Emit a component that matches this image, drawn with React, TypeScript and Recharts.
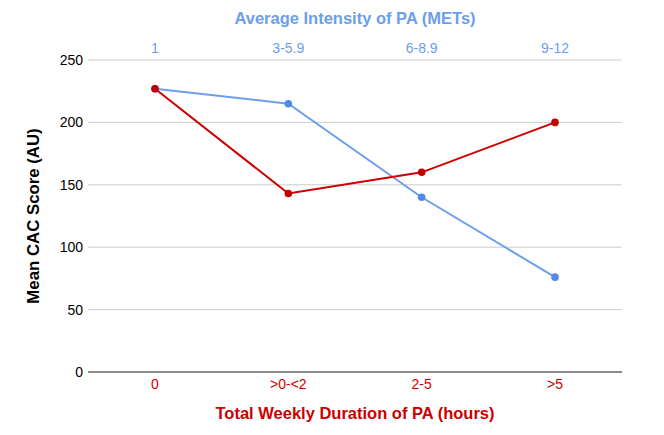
import React from "react";
import { LineChart, Line, XAxis, YAxis, CartesianGrid, Label } from "recharts";

const durationCats = ["0", ">0-<2", "2-5", ">5"];
const intensityCats = ["1", "3-5.9", "6-8.9", "9-12"];
const intensityValues = [227, 215, 140, 76];
const durationValues = [227, 143, 160, 200];
const yTicks = [0, 50, 100, 150, 200, 250];

const BLUE = "#6d9eeb";
const BLUE_DOT = "#4f8ae8";
const RED = "#cc0000";
const RED_DOT = "#c00000";
const FONT = "'Liberation Sans', Arial, sans-serif";

const data = durationCats.map((d, i) => ({
  dur: d,
  int: intensityCats[i],
  intensity: intensityValues[i],
  duration: durationValues[i],
}));

const YTitle = (props: any) => {
  const vb = props.viewBox || {};
  const cx = 33;
  const cy = vb.y + vb.height / 2;
  return (
    <text
      x={cx}
      y={cy}
      transform={`rotate(-90, ${cx}, ${cy})`}
      textAnchor="middle"
      dominantBaseline="central"
      fontFamily={FONT}
      fontSize={16.8}
      fontWeight="bold"
      fill="#000"
    >
      Mean CAC Score (AU)
    </text>
  );
};

const PAD = { left: 67, right: 67 };

export default function App() {
  return (
    <div style={{ position: "absolute", left: 0, top: 0, background: "#fff" }}>
      <LineChart
        width={664}
        height={435}
        data={data}
        margin={{ top: 30, right: 42, bottom: 33, left: 28 }}
      >
        <CartesianGrid vertical={false} stroke="#cccccc" />
        <XAxis
          xAxisId="top"
          dataKey="int"
          orientation="top"
          height={30}
          padding={PAD}
          axisLine={false}
          tickLine={false}
          tickSize={0}
          tickMargin={7}
          tick={{ fill: BLUE, fontSize: 14, fontFamily: FONT }}
        >
          <Label
            value="Average Intensity of PA (METs)"
            position="top"
            offset={6}
            fill={BLUE}
            fontSize={16.5}
            fontWeight="bold"
            fontFamily={FONT}
          />
        </XAxis>
        <XAxis
          xAxisId="bottom"
          dataKey="dur"
          orientation="bottom"
          height={30}
          padding={PAD}
          axisLine={{ stroke: "#333333" }}
          tickLine={false}
          tickSize={0}
          tickMargin={7}
          tick={{ fill: RED, fontSize: 14, fontFamily: FONT }}
        >
          <Label
            value="Total Weekly Duration of PA (hours)"
            position="bottom"
            offset={5}
            fill={RED}
            fontSize={16.5}
            fontWeight="bold"
            fontFamily={FONT}
          />
        </XAxis>
        <YAxis
          width={60}
          domain={[0, 250]}
          ticks={yTicks}
          axisLine={false}
          tickLine={false}
          tickSize={0}
          tickMargin={5}
          tick={{ fill: "#000", fontSize: 14, fontFamily: FONT }}
        >
          <Label content={<YTitle />} />
        </YAxis>
        <Line
          xAxisId="top"
          dataKey="intensity"
          stroke={BLUE}
          strokeWidth={2}
          dot={{ r: 3.8, fill: BLUE_DOT, stroke: BLUE_DOT, strokeWidth: 0 }}
          activeDot={false}
          isAnimationActive={false}
        />
        <Line
          xAxisId="bottom"
          dataKey="duration"
          stroke={RED}
          strokeWidth={2}
          dot={{ r: 3.8, fill: RED_DOT, stroke: RED_DOT, strokeWidth: 0 }}
          activeDot={false}
          isAnimationActive={false}
        />
      </LineChart>
    </div>
  );
}
